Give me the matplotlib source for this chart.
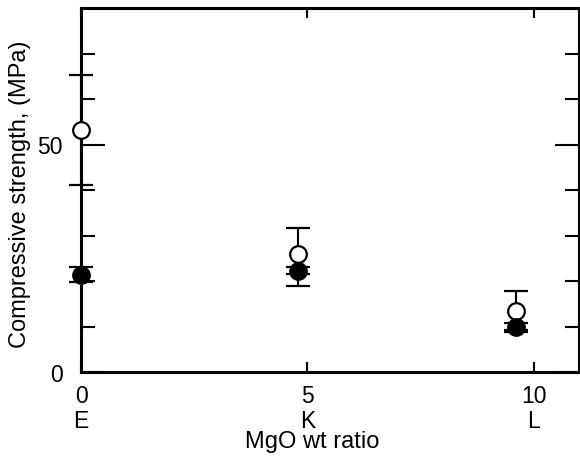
import numpy as np
import matplotlib
matplotlib.use('Agg')
import matplotlib.pyplot as plt

plt.rcParams['font.family'] = ['Liberation Sans', 'DejaVu Sans']

# MgO wt ratio for mixes E, K, L
mgo = [0, 4.8, 9.6]
mixes = ['E', 'K', 'L']

# open circles
open_y = [53.1, 26.0, 13.5]
open_err_lo = [12.1, 7.0, 4.2]
open_err_hi = [12.1, 5.7, 4.2]

# filled circles
filled_y = [21.4, 22.3, 9.8]
filled_err = [1.7, 0.8, 1.0]

xtick_vals = [0, 5, 10]
xtick_labels = ['0\nE', '5\nK', '10\nL']

fig = plt.figure(figsize=(5.8, 4.64), dpi=100)
ax = fig.add_axes([81/580, 91/464, 498/580, 364/464])

ax.errorbar(mgo, open_y, yerr=[open_err_lo, open_err_hi], fmt='o', ms=12,
            mfc='white', mec='black', mew=1.6, color='black', elinewidth=1.5,
            capsize=8.5, capthick=1.6, clip_on=False, zorder=3)
ax.errorbar(mgo, filled_y, yerr=filled_err, fmt='o', ms=12.5,
            mfc='black', mec='black', color='black', elinewidth=1.5,
            capsize=8.5, capthick=1.6, clip_on=False, zorder=4)

ax.set_xlim(0, 11)
ax.set_ylim(0, 80)

for s in ax.spines.values():
    s.set_linewidth(2.2)

ax.set_xticks(xtick_vals)
ax.set_xticklabels(xtick_labels, linespacing=1.1)
ax.tick_params(axis='x', direction='in', length=7, width=1.5, top=True,
               labelsize=16.5, pad=9)
ax.set_yticks([0, 50])
ax.set_yticks([10, 20, 30, 40, 60, 70], minor=True)
ax.tick_params(axis='y', which='major', direction='in', length=17, width=1.5,
               right=True, labelsize=16.5, pad=13)
ax.tick_params(axis='y', which='minor', direction='in', length=10, width=1.5,
               right=True)

ax.set_xlabel('MgO wt ratio', fontsize=17)
ax.xaxis.set_label_coords((312 - 81) / 498, -0.16)
ax.set_ylabel('Compressive strength, (MPa)', fontsize=17)
ax.yaxis.set_label_coords(-0.1, 0.49)

fig.savefig('out.png', dpi=100)
